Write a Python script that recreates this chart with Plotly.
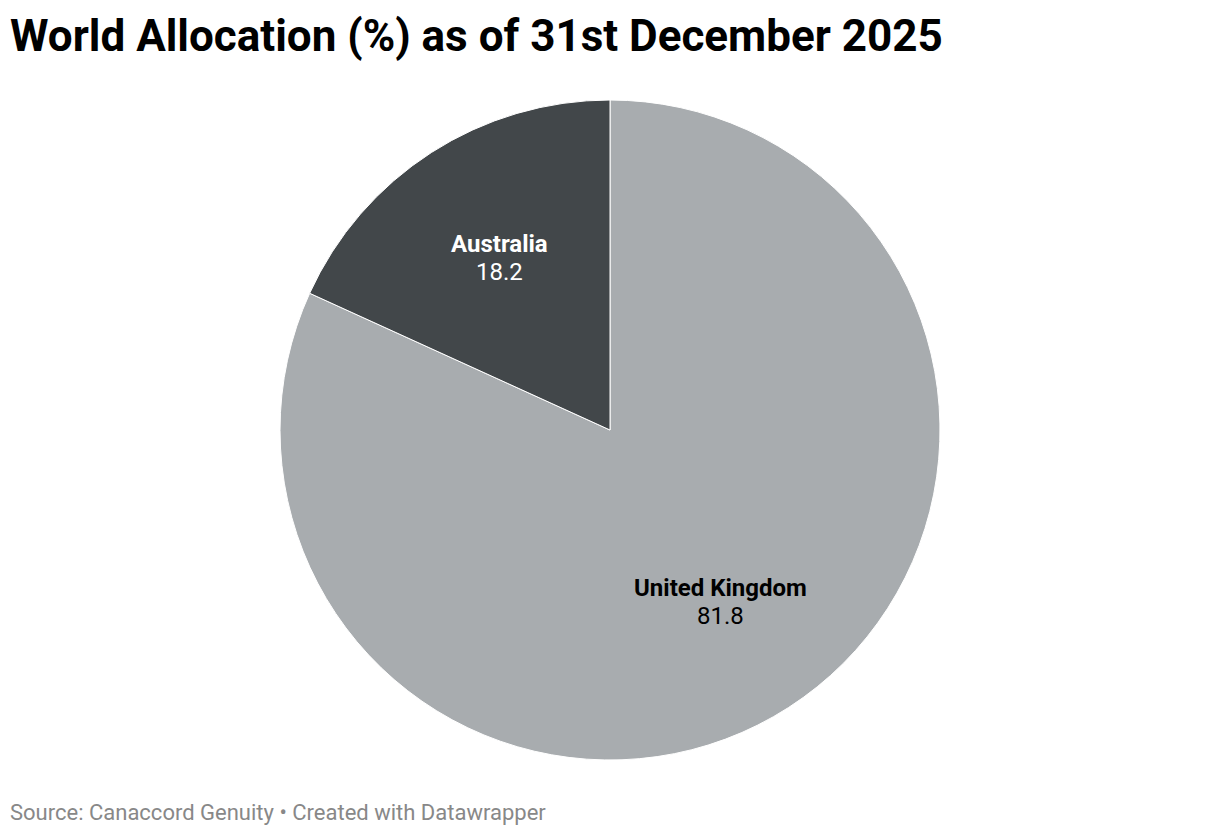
import numpy as np
import plotly.graph_objects as go

# data
countries = ["United Kingdom", "Australia"]
shares = [81.8, 18.2]
colors = ["#a8acaf", "#42474a"]
label_colors = ["#000000", "#ffffff"]

# the page body has an 8px margin, so the figure is 16px smaller and shifted
OFF = 8
W, H = 1220 - 2 * OFF, 836 - 2 * OFF
# pie placement (window pixels)
cx, cy, R = 610 - OFF, 430 - OFF, 330

fig = go.Figure()

fig.add_trace(go.Pie(
    labels=countries,
    values=shares,
    sort=False,
    direction="clockwise",
    rotation=0,
    marker=dict(colors=colors, line=dict(color="#ffffff", width=1)),
    textinfo="none",
    hoverinfo="label+value",
    showlegend=False,
    domain=dict(x=[(cx - R) / W, (cx + R) / W],
                y=[1 - (cy + R) / H, 1 - (cy - R) / H]),
))

# labels at ~62% of radius along each slice's mid angle
total = sum(shares)
start = 0.0
for name, val, lc in zip(countries, shares, label_colors):
    mid = (start + val / 2) / total * 2 * np.pi
    start += val
    r = 0.62 * R
    px = cx + r * np.sin(mid)
    py = cy - r * np.cos(mid)
    for txt, shift in ((f"<b>{name}</b>", 14), (f"{val}", -14)):
        fig.add_annotation(
            x=px / W, y=1 - py / H, xref="paper", yref="paper",
            xanchor="center", yanchor="middle", yshift=shift,
            text=txt,
            showarrow=False,
            font=dict(family="Roboto", size=24, color=lc),
        )

fig.add_annotation(
    x=(8 - OFF) / W, y=1 - (36 - OFF) / H, xref="paper", yref="paper",
    xanchor="left", yanchor="middle",
    text="<b>World Allocation (%) as of 31st December 2025</b>",
    showarrow=False,
    font=dict(family="Roboto", size=44, color="#000000"),
)

fig.add_annotation(
    x=(8 - OFF) / W, y=1 - (812 - OFF) / H, xref="paper", yref="paper",
    xanchor="left", yanchor="middle",
    text="Source: Canaccord Genuity • Created with Datawrapper",
    showarrow=False,
    font=dict(family="Roboto", size=22, color="#888888"),
)

fig.update_layout(
    width=W,
    height=H,
    margin=dict(l=0, r=0, t=0, b=0),
    paper_bgcolor="#ffffff",
    plot_bgcolor="#ffffff",
)

fig.write_html("out.html")
